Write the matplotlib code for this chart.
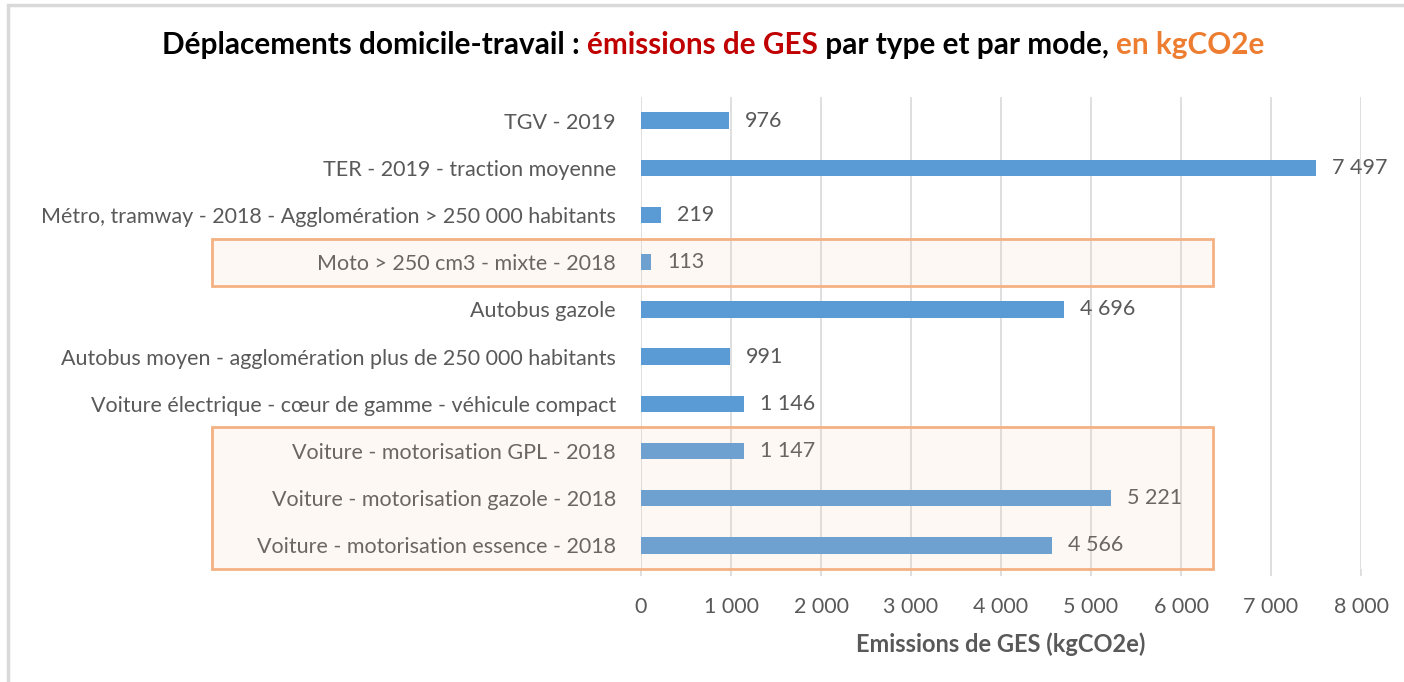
import matplotlib.pyplot as plt
from matplotlib.patches import Rectangle
import matplotlib.transforms as mtransforms

plt.rcParams['font.family'] = ['Lato', 'DejaVu Sans']

categories = [
    "TGV - 2019",
    "TER - 2019 - traction moyenne",
    "Métro, tramway - 2018 - Agglomération > 250 000 habitants",
    "Moto > 250 cm3 - mixte - 2018",
    "Autobus gazole",
    "Autobus moyen - agglomération plus de 250 000 habitants",
    "Voiture électrique - cœur de gamme - véhicule compact",
    "Voiture - motorisation GPL - 2018",
    "Voiture - motorisation gazole - 2018",
    "Voiture - motorisation essence - 2018",
]
emissions = [976, 7497, 219, 113, 4696, 991, 1146, 1147, 5221, 4566]
xticks = [0, 1000, 2000, 3000, 4000, 5000, 6000, 7000, 8000]
highlight_groups = [(3, 3), (7, 9)]

title_parts = [
    ("Déplacements domicile-travail : ", "#000000"),
    ("émissions de GES", "#C00000"),
    (" par type et par mode, ", "#000000"),
    ("en kgCO2e", "#ED7D31"),
]

GRAY = "#595959"

fig = plt.figure(figsize=(14.04, 6.82), dpi=100)
ax = fig.add_axes([641 / 1404, 1 - 569 / 682, 720 / 1404, 472 / 682])

ypos = list(range(len(categories)))
ax.barh(ypos, emissions, height=0.35, color="#5B9BD5", zorder=2)
ax.set_ylim(len(categories) - 0.5, -0.5)
ax.set_xlim(0, 8000)
ax.set_xticks(xticks)
ax.set_xticklabels([f"{t:,}".replace(",", " ") for t in xticks])
ax.set_yticks(ypos)
ax.set_yticklabels(categories)
ax.grid(axis="x", color="#D9D9D9", linewidth=1.2, zorder=0)
for s in ax.spines.values():
    s.set_visible(False)
ax.tick_params(axis="y", length=0, pad=18, labelsize=15.5, labelcolor=GRAY)
ax.tick_params(axis="x", length=5, color="#D9D9D9", width=1.2, pad=15,
               labelsize=15.5, labelcolor=GRAY)
ax.set_xlabel("Emissions de GES (kgCO2e)", fontsize=17, fontweight="bold",
              color=GRAY, labelpad=11)

for y, v in zip(ypos, emissions):
    ax.annotate(f"{v:,}".replace(",", " "), (v, y), xytext=(11.5, 0),
                textcoords="offset points", va="center", ha="left",
                fontsize=15.5, color=GRAY)

# orange highlight boxes
trans = mtransforms.blended_transform_factory(ax.transAxes, ax.transData)
for first, last in highlight_groups:
    r = Rectangle((-0.596, first - 0.5), 0.794 + 0.596, last - first + 1,
                  transform=trans, facecolor="#F8CBAD", alpha=0.12,
                  edgecolor="none", clip_on=False, zorder=3)
    ax.add_patch(r)
    r = Rectangle((-0.596, first - 0.5), 0.794 + 0.596, last - first + 1,
                  transform=trans, facecolor="none", edgecolor="#F4B183",
                  linewidth=2, clip_on=False, zorder=4)
    ax.add_patch(r)

# outer frame
fig.add_artist(Rectangle((8 / 1404, -0.1), 1.2, 1.1 - 5 / 682,
                         transform=fig.transFigure, facecolor="none",
                         edgecolor="#D9D9D9", linewidth=2.5))

# multi-coloured title
fig.canvas.draw()
renderer = fig.canvas.get_renderer()
texts = []
x = 0
for s, c in title_parts:
    t = fig.text(x, 1 - 45 / 682, s, fontsize=21.4, fontweight="bold",
                 color=c, va="center", ha="left")
    fig.canvas.draw()
    w = t.get_window_extent(renderer).width / fig.bbox.width
    texts.append((t, x))
    x += w
start = 713 / 1404 - x / 2
for t, x0 in texts:
    t.set_x(start + x0)

fig.savefig("out.png", dpi=100)
